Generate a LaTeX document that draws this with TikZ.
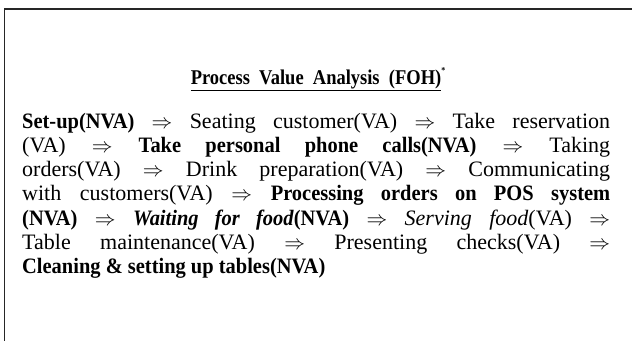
\documentclass[tikz,border=0pt]{standalone}
\usepackage{fontspec}
\setmainfont{Liberation Serif}[BoldFeatures={FakeStretch=0.93},BoldItalicFeatures={FakeStretch=0.93}]
\newfontfamily\titlefont{Liberation Serif}[BoldFeatures={FakeStretch=0.88}]
\newcommand{\ra}{$\Rightarrow$}
\tikzset{
  bodyline/.style={anchor=base west, inner sep=0pt, font=\fontsize{22}{24}\selectfont},
  frame/.style={line width=1.4pt, black!85}
}
\newcommand{\jline}[1]{\makebox[588pt][s]{#1}}
\begin{document}
\begin{tikzpicture}[x=1pt,y=1pt]
\useasboundingbox (0,0) rectangle (632,-341);
\coordinate (tl) at (4.5,-9);
\coordinate (tr) at (632,-9);
\coordinate (bl) at (4.5,-341);
\draw[frame] (tr) -- (tl) -- (bl);
\node[anchor=base, inner sep=0pt, font=\titlefont\fontsize{21}{24}\selectfont\bfseries] (title) at (318,-84)
  {\underline{Process\ \ Value\ \ Analysis\ \ (FOH)}\raisebox{11pt}{\fontsize{9}{9}\selectfont *}};
\node[bodyline] (l1) at (22,-128) {\jline{\textbf{Set-up(NVA)} \ra{} Seating customer(VA) \ra{} Take reservation}};
\node[bodyline] (l2) at (22,-152.3) {\jline{(VA) \ra{} \textbf{Take personal phone calls(NVA)} \ra{} Taking}};
\node[bodyline] (l3) at (22,-176.6) {\jline{orders(VA) \ra{} Drink preparation(VA) \ra{} Communicating}};
\node[bodyline] (l4) at (22,-200.9) {\jline{with customers(VA) \ra{} \textbf{Processing orders on POS system}}};
\node[bodyline] (l5) at (22,-225.2) {\jline{\textbf{(NVA)} \ra{} \textbf{\textit{Waiting for food}(NVA)} \ra{} \textit{Serving food}(VA) \ra}};
\node[bodyline] (l6) at (22,-249.5) {\jline{Table maintenance(VA) \ra{} Presenting checks(VA) \ra}};
\node[bodyline] (l7) at (22,-273.8) {\textbf{Cleaning \& setting up tables(NVA)}};
\end{tikzpicture}
\end{document}
